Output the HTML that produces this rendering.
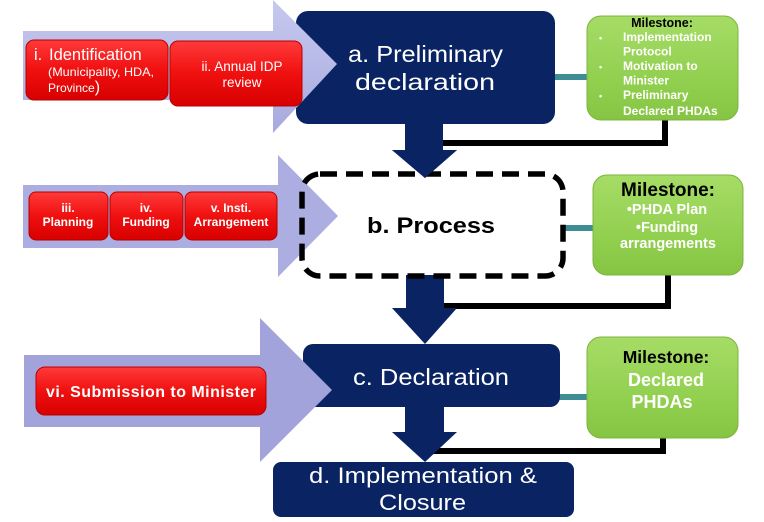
<!DOCTYPE html>
<html><head><meta charset="utf-8"><style>
html,body{margin:0;padding:0;background:#fff;}
svg{display:block;}
text{font-family:"Liberation Sans",Arial,sans-serif;}
</style></head><body>
<svg width="764" height="522" viewBox="0 0 764 522" xmlns="http://www.w3.org/2000/svg">
<defs>
<linearGradient id="red" x1="0" y1="0" x2="0" y2="1">
<stop offset="0" stop-color="#ff3a3a"/><stop offset="0.5" stop-color="#f01010"/><stop offset="1" stop-color="#d80000"/>
</linearGradient>
<linearGradient id="green" x1="0" y1="0" x2="0" y2="1">
<stop offset="0" stop-color="#a6dc66"/><stop offset="0.6" stop-color="#92d050"/><stop offset="1" stop-color="#86c444"/>
</linearGradient>
<linearGradient id="lav" x1="0" y1="0" x2="0" y2="1">
<stop offset="0" stop-color="#c6c9ee"/><stop offset="1" stop-color="#a8a9df"/>
</linearGradient>
</defs>
<rect width="764" height="522" fill="#fff"/>

<!-- black connector lines -->
<polyline points="665,118 665,143 440,143" fill="none" stroke="#000" stroke-width="6"/>
<polyline points="668,273 668,306 440,306" fill="none" stroke="#000" stroke-width="6"/>
<polyline points="663,436 663,451 430,451" fill="none" stroke="#000" stroke-width="6"/>

<!-- teal connectors -->
<rect x="550" y="74" width="40" height="6" fill="#3f8d94"/>
<rect x="562" y="225" width="34" height="6" fill="#3f8d94"/>
<rect x="555" y="394" width="35" height="6" fill="#3f8d94"/>

<!-- navy boxes -->
<rect x="296" y="11" width="259" height="113" rx="12" fill="#0a2463"/>
<rect x="303" y="344" width="257" height="63" rx="10" fill="#0a2463"/>
<rect x="273" y="462" width="301" height="55" rx="8" fill="#0a2463"/>

<!-- lavender arrows -->
<polygon points="23,31 273,31 273,0 337,64 273,133 273,100 23,100" fill="url(#lav)"/>
<polygon points="23,185 278,185 278,155 338,216 278,277 278,248 23,248" fill="#acaee1"/>
<polygon points="24,355 260,355 260,318 332,390 260,462 260,427 24,427" fill="#a3a3dc"/>

<!-- down arrows -->
<polygon points="405,124 443,124 443,150 457,150 425,178 392,150 405,150" fill="#0a2463"/>
<polygon points="406,275 444,275 444,308 457,308 425,344 392,308 406,308" fill="#0a2463"/>
<polygon points="405,407 444,407 444,432 457,432 425,462 392,432 405,432" fill="#0a2463"/>

<!-- dashed box -->
<rect x="302" y="174" width="261" height="102" rx="18" fill="none" stroke="#000" stroke-width="5.5" stroke-dasharray="17,9"/>
<polygon points="405,150 443,150 457,150 425,178 392,150" fill="#0a2463"/>

<!-- red boxes row a -->
<rect x="26" y="40" width="142" height="60" rx="8" fill="url(#red)" stroke="#b80000" stroke-width="1"/>
<rect x="170" y="41" width="132" height="65" rx="8" fill="url(#red)" stroke="#b80000" stroke-width="1"/>
<!-- red boxes row b -->
<rect x="29" y="192" width="79" height="48" rx="7" fill="url(#red)" stroke="#b80000" stroke-width="1"/>
<rect x="110" y="192" width="73" height="48" rx="7" fill="url(#red)" stroke="#b80000" stroke-width="1"/>
<rect x="185" y="192" width="92" height="48" rx="7" fill="url(#red)" stroke="#b80000" stroke-width="1"/>
<!-- red box row c -->
<rect x="36" y="367" width="230" height="48" rx="9" fill="url(#red)" stroke="#b80000" stroke-width="1"/>

<!-- green milestones -->
<rect x="587" y="16" width="151" height="104" rx="14" fill="url(#green)" stroke="#7cb43e" stroke-width="1"/>
<rect x="593" y="175" width="150" height="100" rx="14" fill="url(#green)" stroke="#7cb43e" stroke-width="1"/>
<rect x="587" y="337" width="151" height="101" rx="14" fill="url(#green)" stroke="#7cb43e" stroke-width="1"/>

<!-- red text -->
<text x="34" y="60" font-size="16.5" fill="#fff">i. <tspan x="49">Identification</tspan></text>
<text x="48" y="76" font-size="12" fill="#fff" textLength="106" lengthAdjust="spacingAndGlyphs">(Municipality, HDA,</text>
<text x="48" y="92" font-size="12" fill="#fff">Province<tspan font-size="16">)</tspan></text>
<text x="242" y="71" font-size="13.5" fill="#fff" text-anchor="middle">ii. Annual IDP</text>
<text x="242" y="87" font-size="13.5" fill="#fff" text-anchor="middle">review</text>

<text x="68" y="212" font-size="12" font-weight="bold" fill="#fff" text-anchor="middle">iii.</text>
<text x="68" y="226" font-size="12" font-weight="bold" fill="#fff" text-anchor="middle">Planning</text>
<text x="146" y="212" font-size="12" font-weight="bold" fill="#fff" text-anchor="middle">iv.</text>
<text x="146" y="226" font-size="12" font-weight="bold" fill="#fff" text-anchor="middle">Funding</text>
<text x="231" y="212" font-size="12" font-weight="bold" fill="#fff" text-anchor="middle">v. Insti.</text>
<text x="231" y="226" font-size="12" font-weight="bold" fill="#fff" text-anchor="middle">Arrangement</text>

<text x="46" y="397" font-size="16" font-weight="bold" fill="#fff" textLength="210" lengthAdjust="spacing">vi. Submission to Minister</text>

<!-- navy text -->
<text x="348" y="62" font-size="23" fill="#fff" textLength="155" lengthAdjust="spacingAndGlyphs">a. Preliminary</text>
<text x="355" y="90" font-size="23" fill="#fff" textLength="140" lengthAdjust="spacingAndGlyphs">declaration</text>
<text x="353" y="385" font-size="23" fill="#fff" textLength="156" lengthAdjust="spacingAndGlyphs">c. Declaration</text>
<text x="309" y="483" font-size="22" fill="#fff" textLength="228" lengthAdjust="spacingAndGlyphs">d. Implementation &amp;</text>
<text x="379" y="510" font-size="22" fill="#fff" textLength="87" lengthAdjust="spacingAndGlyphs">Closure</text>

<text x="367" y="233" font-size="22" font-weight="bold" fill="#000" textLength="128" lengthAdjust="spacingAndGlyphs">b. Process</text>

<!-- milestone a -->
<text x="662" y="27" font-size="12.5" font-weight="bold" fill="#000" text-anchor="middle">Milestone:</text>
<g font-size="12" font-weight="bold" fill="#fff">
<text x="599" y="41" font-size="9">•</text>
<text x="623" y="41">Implementation</text>
<text x="623" y="55.5">Protocol</text>
<text x="599" y="70" font-size="9">•</text>
<text x="623" y="70">Motivation to</text>
<text x="623" y="84.5">Minister</text>
<text x="599" y="99" font-size="9">•</text>
<text x="623" y="99">Preliminary</text>
<text x="623" y="115">Declared PHDAs</text>
</g>

<!-- milestone b -->
<text x="668" y="196" font-size="19" font-weight="bold" fill="#000" text-anchor="middle">Milestone:</text>
<text x="667" y="214" font-size="14.5" font-weight="bold" fill="#fff" text-anchor="middle">•PHDA Plan</text>
<text x="667" y="232" font-size="14.5" font-weight="bold" fill="#fff" text-anchor="middle">•Funding</text>
<text x="668" y="248" font-size="14.5" font-weight="bold" fill="#fff" text-anchor="middle">arrangements</text>

<!-- milestone c -->
<text x="666" y="363" font-size="17.5" font-weight="bold" fill="#000" text-anchor="middle">Milestone:</text>
<text x="666" y="386" font-size="18" font-weight="bold" fill="#fff" text-anchor="middle">Declared</text>
<text x="662" y="408" font-size="18" font-weight="bold" fill="#fff" text-anchor="middle">PHDAs</text>
</svg>
</body></html>
